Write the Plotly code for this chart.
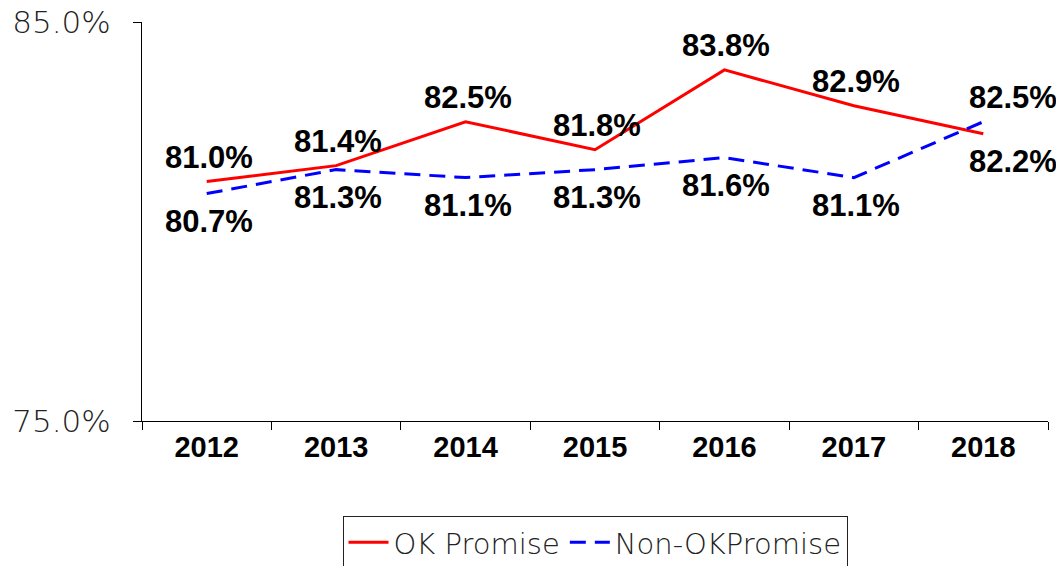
import plotly.graph_objects as go

years = ["2012", "2013", "2014", "2015", "2016", "2017", "2018"]
ok_promise = [81.0, 81.4, 82.5, 81.8, 83.8, 82.9, 82.2]
non_ok_promise = [80.7, 81.3, 81.1, 81.3, 81.6, 81.1, 82.5]
ok_above = [True, True, True, True, True, True, False]
non_above = [False, False, False, False, False, False, True]

xpos = list(range(len(years)))
bounds = [i - 0.5 for i in range(len(years) + 1)]

bold_font = dict(family="Liberation Sans, Arial, sans-serif", size=31, color="black", weight="bold")
thin_font = "DejaVu Sans, sans-serif"

fig = go.Figure()
fig.add_trace(go.Scatter(
    x=xpos, y=ok_promise, mode="lines", name="OK Promise",
    line=dict(color="#ff0000", width=3),
))
fig.add_trace(go.Scatter(
    x=xpos, y=non_ok_promise, mode="lines", name="Non-OKPromise",
    line=dict(color="#0000ff", width=3, dash="16px,9px"),
))

annotations = []
for series, above in ((ok_promise, ok_above), (non_ok_promise, non_above)):
    for i, v in enumerate(series):
        annotations.append(dict(
            x=xpos[i], y=v, xref="x", yref="y", text=f"{v:.1f}%", showarrow=False,
            font=bold_font,
            yshift=24 if above[i] else -28,
            xshift=30 if i == len(years) - 1 else 2,
        ))

fig.update_layout(
    width=1064, height=566,
    margin=dict(l=134, r=24, t=14, b=153),
    plot_bgcolor="white", paper_bgcolor="white",
    font=dict(family=thin_font, color="#222"),
    legend=dict(orientation="h", x=0.5, xanchor="center",
                yref="container", y=1 - 508 / 566, yanchor="top",
                bordercolor="#222", borderwidth=1,
                font=dict(family=thin_font, size=29, color="#222", weight=200),
                itemwidth=40, tracegroupgap=0),
    showlegend=True,
    annotations=annotations,
)
fig.update_xaxes(
    range=[bounds[0], bounds[-1]], tickvals=xpos, ticktext=years,
    showline=True, linecolor="black", linewidth=1,
    ticks="", tickfont=dict(family="Liberation Sans, Arial, sans-serif", size=29, color="black", weight="bold"),
    minor=dict(tickvals=bounds, ticks="outside", ticklen=8, tickcolor="black", showgrid=False),
    showgrid=False, zeroline=False, automargin=False,
)
fig.update_yaxes(
    range=[75, 85], tickvals=[75, 85], ticktext=["75.0%", "85.0%"],
    showline=True, linecolor="black", linewidth=1,
    ticks="outside", ticklen=8, tickcolor="black", ticklabelstandoff=16,
    ticklabeloverflow="allow",
    tickfont=dict(family=thin_font, size=31, color="#222", weight=200),
    showgrid=False, zeroline=False, automargin=False,
)

fig.write_html("out.html")
